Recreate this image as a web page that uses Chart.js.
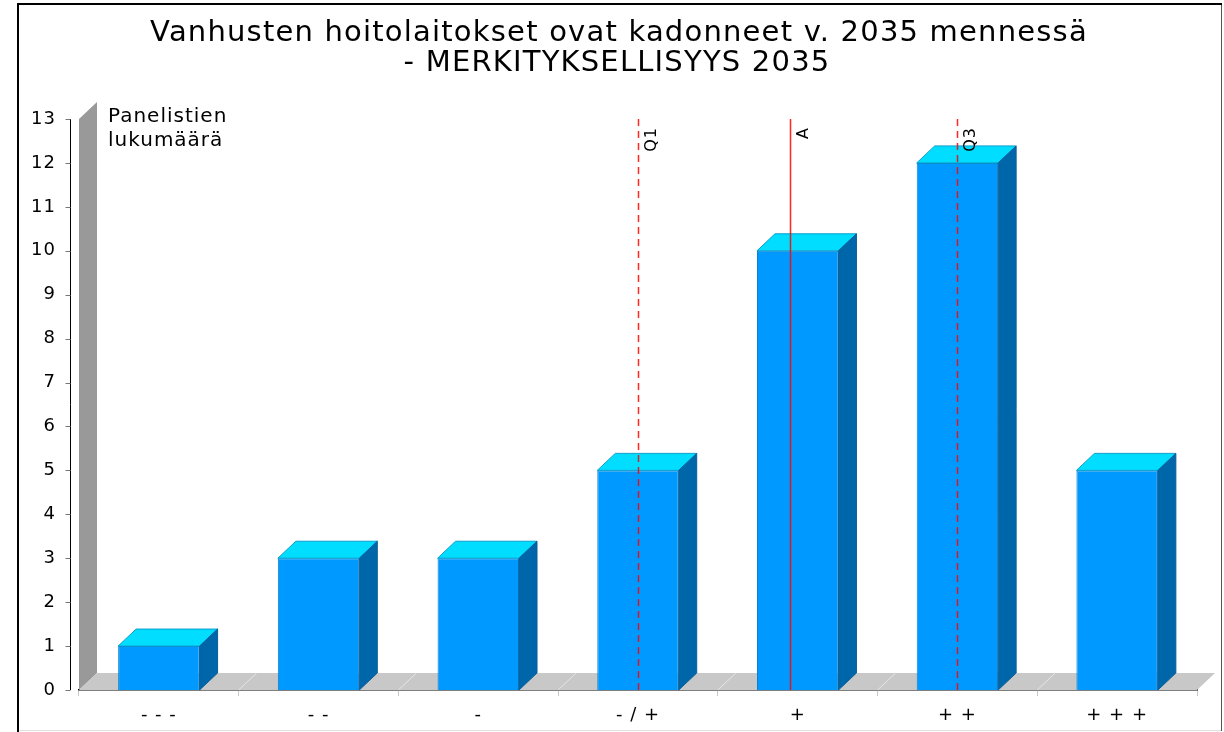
<!DOCTYPE html>
<html>
<head>
<meta charset="utf-8">
<script src="https://cdn.jsdelivr.net/npm/chart.js@4"></script>
<style>
  body { margin: 0; background: #fff; }
</style>
</head>
<body>
<canvas id="chart" width="1224" height="732"></canvas>
<script>
// data
var categories = ['- - -', '- -', '-', '- / +', '+', '+ +', '+ + +'];
var counts = [1, 3, 3, 5, 10, 12, 5];
var yMax = 13;

// quartile / mean markers, positions are category indexes
var markerNames = ['Q1', 'A', 'Q3'];
var markerPositions = [3, 3.95, 5];
var markerDashed = [true, false, true];

var titleLines = ['Vanhusten hoitolaitokset ovat kadonneet v. 2035 mennessä', '- MERKITYKSELLISYYS 2035'];
var axisTitleLines = ['Panelistien', 'lukumäärä'];

var FONT = 'DejaVu Sans';
var DX = 18, DY = 17;   // 3d depth

function poly(ctx, pts, fill, stroke) {
    ctx.beginPath();
    ctx.moveTo(pts[0][0], pts[0][1]);
    for (var i = 1; i < pts.length; i++) ctx.lineTo(pts[i][0], pts[i][1]);
    ctx.closePath();
    if (fill) { ctx.fillStyle = fill; ctx.fill(); }
    if (stroke) { ctx.strokeStyle = stroke; ctx.lineWidth = 1; ctx.stroke(); }
}

var framePlugin = {
    id: 'frame3d',
    beforeLayout: function(chart) {
        chart.ctx.letterSpacing = '1px';
    },
    beforeDraw: function(chart) {
        var ctx = chart.ctx;
        ctx.letterSpacing = '1px';
        ctx.save();
        // outer frame
        ctx.strokeStyle = '#e0e0e0';
        ctx.lineWidth = 1;
        ctx.beginPath();
        ctx.moveTo(17, 730.5); ctx.lineTo(1222, 730.5);
        ctx.stroke();
        ctx.strokeStyle = '#555';
        ctx.beginPath();
        ctx.moveTo(1221.5, 3); ctx.lineTo(1221.5, 731);
        ctx.stroke();
        ctx.strokeStyle = '#000';
        ctx.lineWidth = 2;
        ctx.beginPath();
        ctx.moveTo(18, 732); ctx.lineTo(18, 4); ctx.lineTo(1222, 4);
        ctx.stroke();

        // title
        ctx.fillStyle = '#000';
        ctx.font = '29px "' + FONT + '"';
        ctx.letterSpacing = '1.2px';
        ctx.textAlign = 'center';
        ctx.textBaseline = 'middle';
        ctx.fillText(titleLines[0], 619, 33);
        ctx.fillText(titleLines[1], 617, 63);
        ctx.restore();
    },
    beforeDatasetsDraw: function(chart) {
        var ctx = chart.ctx;
        var area = chart.chartArea;
        var xs = chart.scales.x, ys = chart.scales.y;
        var bottom = ys.getPixelForValue(0);
        var top = ys.getPixelForValue(yMax);
        ctx.save();
        // wall
        poly(ctx, [[area.left, bottom], [area.left, top], [area.left + DX, top - DY], [area.left + DX, bottom - DY]], '#999999');
        // floor
        poly(ctx, [[area.left, bottom], [area.right, bottom], [area.right + DX, bottom - DY], [area.left + DX, bottom - DY]], '#c8c8c8');
        // floor dividers at category boundaries
        ctx.strokeStyle = '#e6e6e6';
        ctx.lineWidth = 1;
        for (var i = 1; i < categories.length; i++) {
            var bx = xs.getPixelForValue(i - 0.5);
            ctx.beginPath();
            ctx.moveTo(bx, bottom);
            ctx.lineTo(bx + DX, bottom - DY);
            ctx.stroke();
        }
        // y axis line and ticks
        var ax = area.left - 8.5;
        ctx.strokeStyle = '#000';
        ctx.beginPath();
        ctx.moveTo(ax, top); ctx.lineTo(ax, bottom);
        ctx.stroke();
        ctx.strokeStyle = '#777';
        ys.ticks.forEach(function(t) {
            var ty = Math.round(ys.getPixelForValue(t.value)) + 0.5;
            ctx.beginPath();
            ctx.moveTo(ax - 5, ty); ctx.lineTo(ax, ty);
            ctx.stroke();
        });
        // axis title
        ctx.fillStyle = '#000';
        ctx.font = '20px "' + FONT + '"';
        ctx.letterSpacing = '1px';
        ctx.textAlign = 'left';
        ctx.textBaseline = 'middle';
        ctx.fillText(axisTitleLines[0], 108, 117);
        ctx.fillText(axisTitleLines[1], 108, 141);
        ctx.restore();
    },
    afterDatasetsDraw: function(chart) {
        var ctx = chart.ctx;
        var xs = chart.scales.x, ys = chart.scales.y;
        var meta = chart.getDatasetMeta(0);
        ctx.save();
        meta.data.forEach(function(bar) {
            var p = bar.getProps(['x', 'y', 'base', 'width'], true);
            var l = p.x - p.width / 2, r = p.x + p.width / 2;
            // top face
            poly(ctx, [[l, p.y], [r, p.y], [r + DX, p.y - DY], [l + DX, p.y - DY]], '#00ddff', '#0a9fcc');
            // side face
            poly(ctx, [[r, p.y], [r + DX, p.y - DY], [r + DX, p.base - DY], [r, p.base]], '#0066aa', '#0a5f99');
        });
        // markers
        var top = ys.getPixelForValue(yMax);
        var bottom = ys.getPixelForValue(0);
        for (var i = 0; i < markerNames.length; i++) {
            var mx = Math.round(xs.getPixelForValue(markerPositions[i])) + 0.5;
            ctx.strokeStyle = 'rgba(255,0,0,0.85)';
            ctx.lineWidth = 1.5;
            ctx.setLineDash(markerDashed[i] ? [7, 5] : []);
            ctx.beginPath();
            ctx.moveTo(mx, top); ctx.lineTo(mx, bottom);
            ctx.stroke();
            ctx.setLineDash([]);
            ctx.save();
            ctx.translate(mx + 5, top + 8);
            ctx.rotate(-Math.PI / 2);
            ctx.fillStyle = '#000';
            ctx.font = '16px "' + FONT + '"';
            ctx.textAlign = 'right';
            ctx.textBaseline = 'top';
            ctx.fillText(markerNames[i], 0, 0);
            ctx.restore();
        }
        ctx.restore();
    }
};

var ctx = document.getElementById('chart').getContext('2d');
var chart = new Chart(ctx, {
    type: 'bar',
    data: {
        labels: categories,
        datasets: [{
            data: counts,
            backgroundColor: '#0099ff',
            borderColor: '#0a80cc',
            borderWidth: 1,
            categoryPercentage: 1,
            barPercentage: 0.51
        }]
    },
    options: {
        responsive: false,
        animation: false,
        layout: { padding: { top: 119, left: 17, right: 27, bottom: 0 } },
        scales: {
            x: {
                afterFit: function(scale) { scale.height = 42; },
                grid: { display: true, drawOnChartArea: false, drawTicks: true, tickLength: 6, color: '#c8c8c8', offset: true },
                border: { display: true, color: '#000', width: 1.5 },
                ticks: { color: '#000', padding: 9, font: { family: FONT, size: 18 } }
            },
            y: {
                min: 0,
                max: yMax,
                afterFit: function(scale) { scale.width = 62; },
                grid: { display: false, drawTicks: false },
                border: { display: false },
                ticks: { stepSize: 1, color: '#000', padding: 23, font: { family: FONT, size: 18 } }
            }
        },
        plugins: {
            legend: { display: false },
            tooltip: { enabled: false },
            title: { display: false }
        }
    },
    plugins: [framePlugin]
});
</script>
</body>
</html>
